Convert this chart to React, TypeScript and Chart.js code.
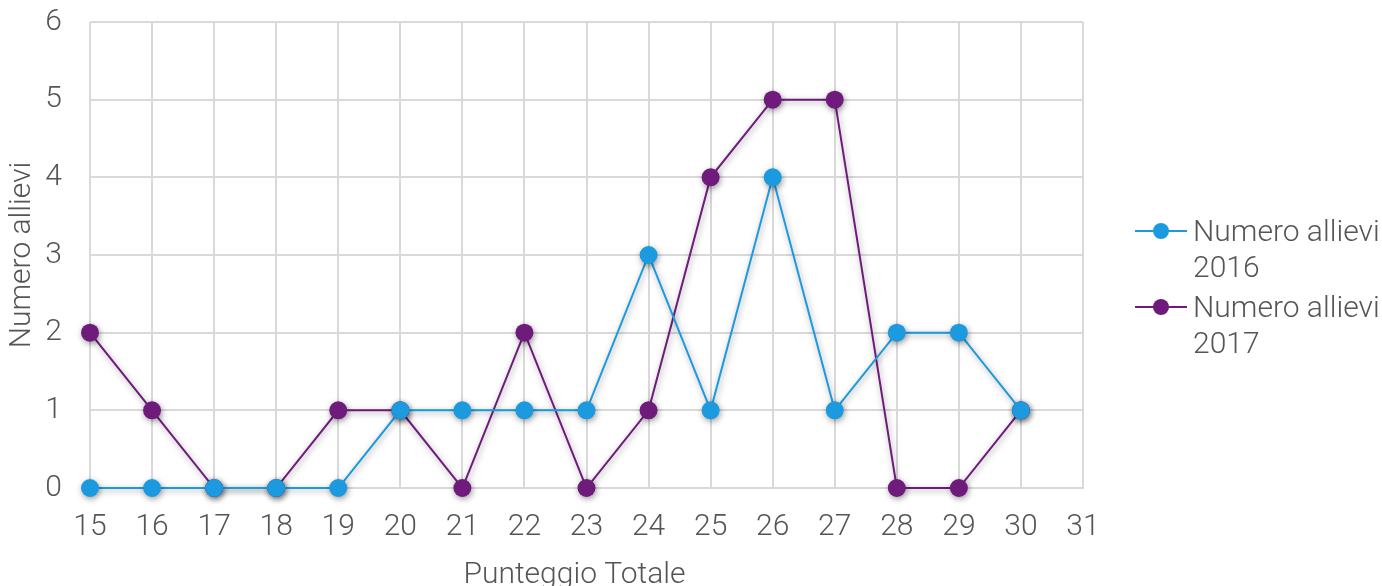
import React, { useEffect, useRef } from "react";
import { Chart, registerables } from "chart.js";

Chart.register(...registerables);

const categories = ["15", "16", "17", "18", "19", "20", "21", "22", "23", "24", "25", "26", "27", "28", "29", "30", "31"];
const allievi2016 = [0, 0, 0, 0, 0, 1, 1, 1, 1, 3, 1, 4, 1, 2, 2, 1, null];
const allievi2017 = [2, 1, 0, 0, 1, 1, 0, 2, 0, 1, 4, 5, 5, 0, 0, 1, null];
const seriesNames = [["Numero allievi", "2016"], ["Numero allievi", "2017"]];
const xTitle = "Punteggio Totale";
const yTitle = "Numero allievi";
const yTicks = [0, 1, 2, 3, 4, 5, 6];

const BLUE = "#1b9ae0";
const PURPLE = "#6f1b7c";
const TEXT = "#555555";
const GRID = "#d9d9d9";
const FONT = "Roboto";
const FS = 30;

const legendPlugin = {
  id: "sideLegend",
  afterDraw(chart: any) {
    const ctx = chart.ctx;
    ctx.save();
    const x0 = 1135;
    const tops = [231, 307];
    chart.data.datasets.forEach((ds: any, i: number) => {
      const y = tops[i];
      ctx.strokeStyle = ds.borderColor;
      ctx.lineWidth = 2;
      ctx.beginPath();
      ctx.moveTo(x0, y);
      ctx.lineTo(x0 + 52, y);
      ctx.stroke();
      ctx.fillStyle = ds.backgroundColor;
      ctx.beginPath();
      ctx.arc(x0 + 26, y, 8, 0, Math.PI * 2);
      ctx.fill();
      ctx.fillStyle = TEXT;
      ctx.font = `300 ${FS}px ${FONT}`;
      ctx.textBaseline = "middle";
      ctx.textAlign = "left";
      const lines = seriesNames[i];
      lines.forEach((t, j) => ctx.fillText(t, x0 + 58, y + 2 + j * 36));
    });
    // x axis title
    const xs = chart.scales.x;
    ctx.fillStyle = TEXT;
    ctx.font = `300 ${FS}px ${FONT}`;
    ctx.textAlign = "center";
    ctx.textBaseline = "alphabetic";
    ctx.fillText(xTitle, (xs.left + xs.right) / 2 - 12, 583);
    ctx.restore();
  },
};

const shadowPlugin = {
  id: "pointShadow",
  beforeDatasetsDraw(chart: any) {
    const ctx = chart.ctx;
    ctx.save();
    ctx.shadowColor = "rgba(0,0,0,0.4)";
    ctx.shadowBlur = 6;
    ctx.shadowOffsetX = 1;
    ctx.shadowOffsetY = 2;
  },
  afterDatasetsDraw(chart: any) {
    chart.ctx.restore();
  },
};

export default function App() {
  const ref = useRef<HTMLCanvasElement>(null);
  useEffect(() => {
    document.body.style.margin = "0";
    const mk = (label: string, data: any[], color: string) => ({
      label,
      data,
      borderColor: color,
      backgroundColor: color,
      borderWidth: 2,
      pointRadius: 9,
      pointHoverRadius: 9,
      pointBorderWidth: 0,
      pointBackgroundColor: color,
      tension: 0,
      clip: false as any,
    });
    const chart = new Chart(ref.current!, {
      type: "line",
      data: {
        labels: categories,
        datasets: [
          mk(seriesNames[0].join(" "), allievi2016, BLUE),
          mk(seriesNames[1].join(" "), allievi2017, PURPLE),
        ],
      },
      options: {
        animation: false,
        responsive: false,
        maintainAspectRatio: false,
        layout: { padding: { top: 22, right: 299, left: 0, bottom: 0 } },
        plugins: { legend: { display: false }, tooltip: { enabled: false } },
        scales: {
          x: {
            type: "category",
            offset: false,
            grid: { color: GRID, lineWidth: 2, drawTicks: false },
            border: { color: GRID, width: 2 },
            ticks: {
              color: TEXT,
              font: { family: FONT, size: FS, weight: "300" },
              padding: 21,
              maxRotation: 0,
              autoSkip: false,
            },
            title: { display: false },
            afterFit(scale: any) {
              scale.height = 98;
              scale.paddingLeft = 0;
              scale.paddingRight = 0;
            },
          },
          y: {
            min: 0,
            max: 6,
            afterBuildTicks(scale: any) {
              scale.ticks = yTicks.map((v) => ({ value: v }));
            },
            grid: { color: GRID, lineWidth: 2, drawTicks: false },
            border: { display: false },
            ticks: {
              color: TEXT,
              font: { family: FONT, size: FS, weight: "300" },
              padding: 28,
            },
            title: {
              display: true,
              text: yTitle,
              color: TEXT,
              font: { family: FONT, size: FS, weight: "300" },
              padding: { top: 4, bottom: 0 },
            },
            afterFit(scale: any) {
              scale.width = 90;
              scale.paddingTop = 0;
              scale.paddingBottom = 0;
            },
          },
        },
      },
      plugins: [shadowPlugin, legendPlugin],
    });
    return () => chart.destroy();
  }, []);
  return <canvas ref={ref} width={1382} height={586} style={{ display: "block" }} />;
}
